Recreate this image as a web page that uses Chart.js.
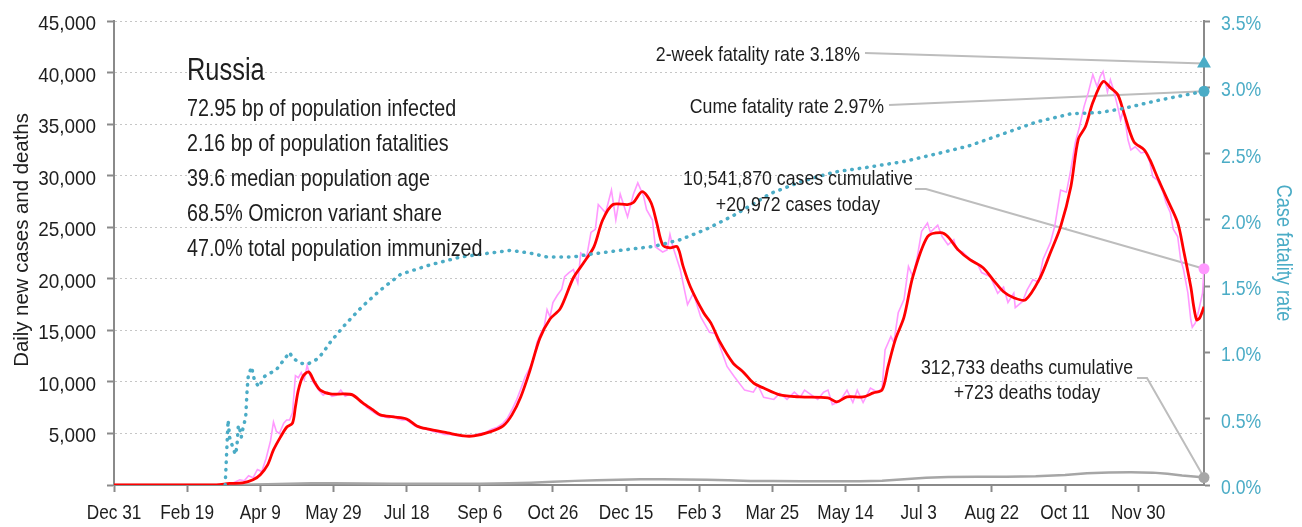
<!DOCTYPE html>
<html>
<head>
<meta charset="utf-8">
<title>Russia – daily new cases, deaths and case fatality rate</title>
<script src="https://cdn.jsdelivr.net/npm/chart.js"></script>
<style>
  html, body { margin: 0; padding: 0; background: #ffffff; }
  #wrap { width: 1302px; height: 527px; position: relative; }
</style>
</head>
<body>
<div id="wrap"><canvas id="chart" width="1302" height="527"></canvas></div>
<script>
// Day 0 is Dec 31, 2019; every x value below is a day offset from it.
const START_UTC = Date.UTC(2019, 11, 31);
const MONTHS = ['Jan','Feb','Mar','Apr','May','Jun','Jul','Aug','Sep','Oct','Nov','Dec'];
const TICK_DAYS = [0, 50, 100, 150, 200, 250, 300, 350, 400, 450, 500, 550, 600, 650, 700];
const LAST_DAY = 745;

// Daily reported new cases
const rawDays = [0,60,70,74,78,82,86,89,92,95,98,101,104,107,109,111,113,116,118,120,122,124,126,128,130,132,134,136,138,140,143,146,149,152,155,158,161,164,167,170,173,176,179,182,185,188,191,194,197,200,203,206,210,214,218,222,226,230,234,238,242,246,250,254,258,262,266,269,272,275,278,281,284,287,289,292,294,296,298,300,303,306,308,311,314,317,319,323,326,329,331,336,340,343,346,351,355,358,362,364,368,370,375,378,380,382,387,392,396,401,407,411,415,419,424,431,437,440,444,451,455,460,465,469,472,481,485,488,491,496,501,505,508,512,517,522,525,527,531,533,536,540,543,546,549,552,556,558,563,566,570,574,576,580,585,590,593,599,604,608,611,615,616,621,624,628,632,635,640,643,647,651,654,657,660,663,666,669,672,674,676,679,681,683,686,688,690,693,695,698,702,705,708,710,713,717,719,722,724,727,729,731,734,736,737,739,741,744,745];
const rawCases = [0,0,30,60,150,250,500,400,900,700,1500,1300,2600,4300,6100,5200,5000,6000,6300,6300,7000,10600,10400,10900,10200,11600,10600,10000,9600,9200,8700,9000,8600,8700,9200,8600,8800,8700,8300,7900,7500,7200,6900,6700,6600,6500,6700,6400,6300,6300,6000,5700,5500,5400,5200,5100,4900,4900,4800,4700,4800,4800,5000,5100,5400,5600,6000,6500,7300,8200,9300,10500,11300,12300,13800,14800,15300,17000,16300,17700,18400,19000,20200,20600,20900,19600,22500,22100,24500,24800,27200,26400,28600,25700,28200,26000,28200,29300,28000,26700,25700,23100,22600,22800,24300,23100,20900,17500,18600,16300,14800,14700,13100,11500,10500,9200,9000,9700,8500,8300,8900,8300,9000,8500,9200,8300,9000,9200,7800,8100,9200,8000,9200,8000,9400,9000,9400,13100,14400,13800,16700,18000,21200,20200,22100,24600,25400,24500,25200,24100,23300,23800,22800,22600,21900,21500,20600,20200,18600,19200,17700,18600,17200,17800,18900,19900,19700,21900,23500,25100,28600,28400,30600,33200,34800,36700,38100,39800,38600,39600,40100,38100,39300,38400,36700,35400,36400,33500,32500,32800,32200,32300,31300,29900,29600,28400,27400,26400,24800,24100,21900,20900,18600,16000,15300,15700,16700,18600,20972];

// 7-day average of new cases
const avgDays = [0,70,79,88,95,100,105,109,114,118,122,124,126,129,133,137,141,148,157,163,170,177,182,191,200,207,214,228,239,246,257,266,272,278,284,291,298,305,314,321,328,334,341,351,355,361,367,371,375,380,385,389,394,403,408,414,423,430,437,444,455,469,488,494,501,512,519,525,529,534,540,546,556,565,570,577,585,594,602,608,615,623,633,640,647,654,659,664,669,676,681,686,690,697,704,708,713,720,727,731,736,738,740,742,745];
const avgCases = [0,0,150,200,500,1000,1950,3400,4700,5600,6000,7600,9200,10500,10970,10000,9200,8830,8830,8740,7960,7280,6800,6600,6400,5730,5440,5050,4760,4760,5150,5730,6800,8540,10970,14200,16100,17100,20100,21550,23100,25700,27200,27200,27400,28450,27400,25400,23300,23000,23100,21200,19200,16700,15700,13900,11850,10970,9900,9400,8740,8540,8450,8060,8540,8540,8930,9220,11460,14080,16300,20200,24080,24470,24080,22800,21850,21070,19700,18740,18160,17960,20100,22520,25050,28930,33500,34760,37090,39130,38540,37870,36210,33300,32520,31550,29900,27670,25440,22800,19200,17280,16020,16200,17280];

// Daily deaths
const deathDays = [0,80,88,95,105,120,135,150,170,190,210,230,250,270,285,300,315,330,345,360,375,390,405,420,435,450,470,490,510,525,540,555,570,590,610,630,650,665,680,695,710,720,730,740,745];
const deaths = [0,0,20,50,80,130,160,170,150,130,120,110,120,180,230,320,400,470,520,560,560,540,500,450,400,380,370,360,370,420,560,700,770,790,790,850,980,1150,1220,1230,1200,1100,920,790,723];

// Cumulative case fatality rate, percent
const cfrDays = [76,78,79,81,83,84,85,86,87,88,90,91,92,93,94,96,99,103,111,120,122,127,132,139,143,148,158,170,182,196,216,237,250,271,284,296,314,325,346,369,387,405,414,423,449,470,492,517,540,563,585,608,631,654,674,690,713,736,745];
const cfrPct = [0,0.49,0.36,0.29,0.23,0.29,0.45,0.42,0.36,0.42,0.51,0.72,0.85,0.86,0.89,0.79,0.74,0.82,0.87,1.0,0.96,0.92,0.91,0.95,1.0,1.08,1.21,1.35,1.47,1.59,1.66,1.72,1.74,1.77,1.75,1.72,1.72,1.74,1.77,1.80,1.85,1.93,1.98,2.03,2.20,2.29,2.36,2.40,2.44,2.50,2.56,2.65,2.74,2.80,2.81,2.84,2.90,2.95,2.97];

// Latest figures
const casesToday = 20972;
const deathsToday = 723;
const cumeCases = 10541870;
const cumeDeaths = 312733;
const cumeFatalityRate = 2.97;
const twoWeekFatalityRate = 3.18;

const infoTitle = 'Russia';
const infoLines = [
  '72.95 bp of population infected',
  '2.16 bp of population fatalities',
  '39.6 median population age',
  '68.5% Omicron variant share',
  '47.0% total population immunized'
];

const FONT = "'Liberation Sans', Arial, sans-serif";
const TEXT = '#1e1e1e';
const AXIS = '#8a8a8a';
const TEAL = '#4bacc6';
const PINK = '#ff99ff';
const RED = '#ff0000';
const GREY = '#a6a6a6';

const pts = (xs, ys) => xs.map((x, i) => ({ x: x, y: ys[i] }));
const fmt = n => n.toLocaleString('en-US');
function dayLabel(d) {
  const dt = new Date(START_UTC + d * 86400000);
  return MONTHS[dt.getUTCMonth()] + ' ' + dt.getUTCDate();
}

// Narrow-set text: a regular face squeezed horizontally by sx
function say(ctx, str, x, y, o) {
  ctx.save();
  ctx.font = o.size + 'px ' + FONT;
  ctx.fillStyle = o.color || TEXT;
  ctx.textBaseline = o.baseline || 'alphabetic';
  ctx.textAlign = o.align || 'left';
  ctx.translate(x, y);
  if (o.rotate) ctx.rotate(o.rotate);
  ctx.scale(o.sx || 1, 1);
  ctx.fillText(str, 0, 0);
  ctx.restore();
}

// Leader lines, text block, tick labels and axis titles
const notes = {
  id: 'notes',
  beforeDatasetsDraw(chart) {
    const { ctx, scales } = chart;
    const xe = scales.x.getPixelForValue(LAST_DAY);
    const yc = scales.y, yr = scales.y2;
    ctx.save();
    ctx.strokeStyle = '#bdbdbd';
    ctx.lineWidth = 2;
    ctx.setLineDash([]);
    const seg = (path) => {
      ctx.beginPath();
      ctx.moveTo(path[0][0], path[0][1]);
      for (let i = 1; i < path.length; i++) ctx.lineTo(path[i][0], path[i][1]);
      ctx.stroke();
    };
    seg([[865, 53], [xe, yr.getPixelForValue(twoWeekFatalityRate)]]);
    seg([[889, 105], [xe, yr.getPixelForValue(cumeFatalityRate)]]);
    seg([[915, 189], [926, 189], [xe, yc.getPixelForValue(casesToday)]]);
    seg([[1137, 378], [1147, 378], [xe, yc.getPixelForValue(deathsToday)]]);
    ctx.restore();
  },
  afterDatasetsDraw(chart) {
    const { ctx } = chart;
    say(ctx, infoTitle, 187, 80, { size: 31, sx: 0.82 });
    infoLines.forEach((t, i) => say(ctx, t, 187, 116 + i * 35.1, { size: 24, sx: 0.82 }));

    const a = { size: 21, sx: 0.845 };
    say(ctx, '2-week fatality rate ' + twoWeekFatalityRate.toFixed(2) + '%', 860, 61, { ...a, align: 'right' });
    say(ctx, 'Cume fatality rate ' + cumeFatalityRate.toFixed(2) + '%', 884, 113, { ...a, align: 'right' });
    say(ctx, fmt(cumeCases) + ' cases cumulative', 798, 185, { ...a, align: 'center' });
    say(ctx, '+' + fmt(casesToday) + ' cases today', 798, 211, { ...a, align: 'center' });
    say(ctx, fmt(cumeDeaths) + ' deaths cumulative', 1027, 374, { ...a, align: 'center' });
    say(ctx, '+' + fmt(deathsToday) + ' deaths today', 1027, 399, { ...a, align: 'center' });
  },
  afterDraw(chart) {
    const { ctx, scales } = chart;
    scales.y.ticks.forEach(t => {
      if (t.value === 0) return;
      say(ctx, fmt(t.value), 96, scales.y.getPixelForValue(t.value) + 9, { size: 21, sx: 0.9, align: 'right' });
    });
    scales.y2.ticks.forEach(t => {
      say(ctx, t.value.toFixed(1) + '%', 1221, scales.y2.getPixelForValue(t.value) + 9, { size: 21, sx: 0.84, color: TEAL });
    });
    scales.x.ticks.forEach(t => {
      say(ctx, dayLabel(t.value), scales.x.getPixelForValue(t.value), 519, { size: 21, sx: 0.82, align: 'center' });
    });
    say(ctx, 'Daily new cases and deaths', 28, 240, { size: 21, sx: 0.97, align: 'center', rotate: -Math.PI / 2 });
    say(ctx, 'Case fatality rate', 1277, 253, { size: 22, sx: 0.83, align: 'center', rotate: Math.PI / 2, color: TEAL });
  }
};

new Chart(document.getElementById('chart'), {
  type: 'line',
  data: {
    datasets: [
      { label: '2-week fatality rate', data: [{ x: LAST_DAY, y: twoWeekFatalityRate }], yAxisID: 'y2',
        showLine: false, pointStyle: 'triangle', pointRadius: 8, backgroundColor: TEAL, borderColor: TEAL, borderWidth: 0, clip: false },
      { label: 'Cume fatality rate', data: [{ x: LAST_DAY, y: cumeFatalityRate }], yAxisID: 'y2',
        showLine: false, pointStyle: 'circle', pointRadius: 5.5, backgroundColor: TEAL, borderColor: TEAL, borderWidth: 0, clip: false },
      { label: 'Cases today', data: [{ x: LAST_DAY, y: casesToday }], yAxisID: 'y',
        showLine: false, pointStyle: 'circle', pointRadius: 5.5, backgroundColor: PINK, borderColor: PINK, borderWidth: 0, clip: false },
      { label: 'Deaths today', data: [{ x: LAST_DAY, y: deathsToday }], yAxisID: 'y',
        showLine: false, pointStyle: 'circle', pointRadius: 5.5, backgroundColor: GREY, borderColor: GREY, borderWidth: 0, clip: false },
      { label: 'Case fatality rate', data: pts(cfrDays, cfrPct), yAxisID: 'y2',
        borderColor: TEAL, borderWidth: 3.5, borderDash: [0.5, 7], borderCapStyle: 'round', pointRadius: 0, tension: 0, fill: false },
      { label: '7-day average', data: pts(avgDays, avgCases), yAxisID: 'y',
        borderColor: RED, borderWidth: 2.8, pointRadius: 0, tension: 0.3, fill: false, borderJoinStyle: 'round' },
      { label: 'New cases', data: pts(rawDays, rawCases), yAxisID: 'y',
        borderColor: PINK, borderWidth: 1.6, pointRadius: 0, tension: 0, fill: false },
      { label: 'Deaths', data: pts(deathDays, deaths), yAxisID: 'y',
        borderColor: GREY, borderWidth: 2.5, pointRadius: 0, tension: 0, fill: false }
    ]
  },
  options: {
    responsive: false,
    animation: false,
    events: [],
    layout: { padding: { top: 21, left: 0, right: 0, bottom: 0 } },
    plugins: { legend: { display: false }, tooltip: { enabled: false }, title: { display: false } },
    scales: {
      x: {
        type: 'linear', min: 0, max: LAST_DAY,
        afterBuildTicks: s => { s.ticks = TICK_DAYS.map(v => ({ value: v })); },
        afterFit: s => { s.height = 42; },
        ticks: { display: false },
        grid: { drawOnChartArea: false, drawTicks: true, tickLength: 7, tickColor: AXIS, tickWidth: 2, tickBorderDash: [] },
        border: { display: true, color: AXIS, width: 2 }
      },
      y: {
        position: 'left', min: 0, max: 45000,
        afterBuildTicks: s => { s.ticks = [0,5000,10000,15000,20000,25000,30000,35000,40000,45000].map(v => ({ value: v })); },
        afterFit: s => { s.width = 114; },
        ticks: { display: false },
        grid: { color: '#c6c6c6', lineWidth: 1, drawTicks: true, tickLength: 7, tickColor: AXIS, tickWidth: 2, tickBorderDash: [] },
        border: { display: true, color: AXIS, width: 2, dash: [2, 3] }
      },
      y2: {
        position: 'right', min: 0, max: 3.5,
        afterBuildTicks: s => { s.ticks = [0,0.5,1,1.5,2,2.5,3,3.5].map(v => ({ value: v })); },
        afterFit: s => { s.width = 98; },
        ticks: { display: false },
        grid: { drawOnChartArea: false, drawTicks: true, tickLength: 6, tickColor: AXIS, tickWidth: 2, tickBorderDash: [] },
        border: { display: true, color: AXIS, width: 2 }
      }
    }
  },
  plugins: [notes]
});
</script>
</body>
</html>
